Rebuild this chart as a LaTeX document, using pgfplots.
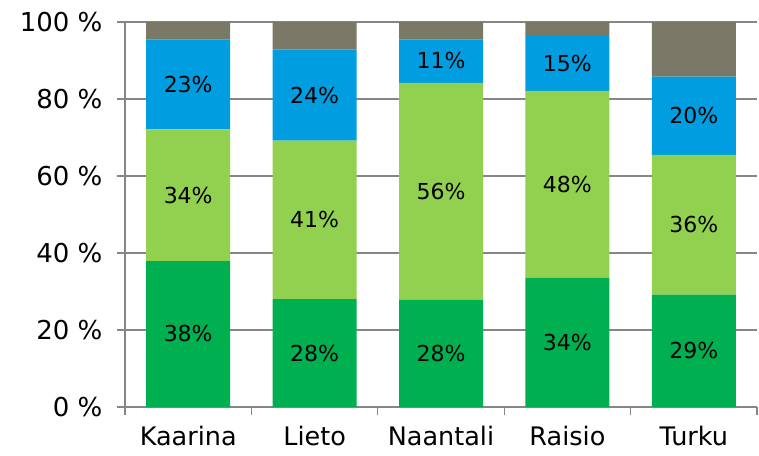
\documentclass[border=0pt]{standalone}
\usepackage{pgfplots}
\usepackage{pgfplotstable}
\pgfplotsset{compat=1.18}
\usepackage{fontspec}
\setmainfont{DejaVu Sans}
\definecolor{dg}{RGB}{0,176,80}
\definecolor{lg}{RGB}{146,208,80}
\definecolor{bl}{RGB}{0,158,224}
\definecolor{gr}{RGB}{122,120,102}
\definecolor{ax}{RGB}{134,134,134}
\pgfplotstableread{
x  y     lab
0  19    38\%
1  14    28\%
2  14    28\%
3  16.8  34\%
4  14.6  29\%
0  55    34\%
1  48.6  41\%
2  56    56\%
3  57.9  48\%
4  47.4  36\%
0  83.8  23\%
1  81    24\%
2  89.9  11\%
3  89.3  15\%
4  75.7  20\%
}\labels
\begin{document}
\begin{tikzpicture}
\begin{axis}[
  at={(0,0)}, anchor=south west,
  scale only axis, width=632pt, height=385pt,
  ybar stacked, bar width=84pt,
  xmin=-0.5, xmax=4.5, ymin=0, ymax=100,
  xtick={0,1,2,3,4},
  xticklabels={Kaarina,Lieto,Naantali,Raisio,Turku},
  major x tick style={draw=none},
  minor xtick={-0.5,0.5,1.5,2.5,3.5,4.5},
  minor x tick style={draw=ax, line width=1.2pt},
  minor tick length=8pt,
  ytick={0,20,40,60,80,100},
  yticklabel={\pgfmathprintnumber{\tick}~\%},
  /pgf/number format/assume math mode=true,
  ymajorgrids, grid style={draw=ax, line width=1.2pt},
  y tick style={draw=ax, line width=1.2pt},
  major tick length=8pt,
  tick align=outside, tick pos=left,
  axis x line*=bottom, axis y line*=left,
  axis line style={draw=ax, line width=1.2pt},
  yticklabel style={font=\fontsize{26}{26}\selectfont, xshift=-11pt},
  xticklabel style={font=\fontsize{25.5}{25.5}\selectfont, yshift=-10pt, inner sep=1pt},
  every axis plot/.append style={draw=none},
]
\addplot[fill=dg] coordinates {(0,37.9) (1,28.0) (2,27.9) (3,33.6) (4,29.2)};
\addplot[fill=lg] coordinates {(0,34.2) (1,41.2) (2,56.3) (3,48.5) (4,36.3)};
\addplot[fill=bl] coordinates {(0,23.4) (1,23.7) (2,11.3) (3,14.3) (4,20.3)};
\addplot[fill=gr] coordinates {(0,4.5) (1,7.1) (2,4.5) (3,3.6) (4,14.2)};
\end{axis}
\begin{axis}[
  at={(0,0)}, anchor=south west,
  scale only axis, width=632pt, height=385pt,
  xmin=-0.5, xmax=4.5, ymin=0, ymax=100,
  hide axis,
]
\addplot[only marks, mark=none, nodes near coords, point meta=explicit symbolic,
  every node near coord/.style={anchor=center, font=\fontsize{22}{22}\selectfont, black}]
  table[x=x, y=y, meta=lab] {\labels};
\end{axis}
\pgfresetboundingbox
\useasboundingbox (-125pt,-48pt) rectangle (634pt,407pt);
\end{tikzpicture}
\end{document}
